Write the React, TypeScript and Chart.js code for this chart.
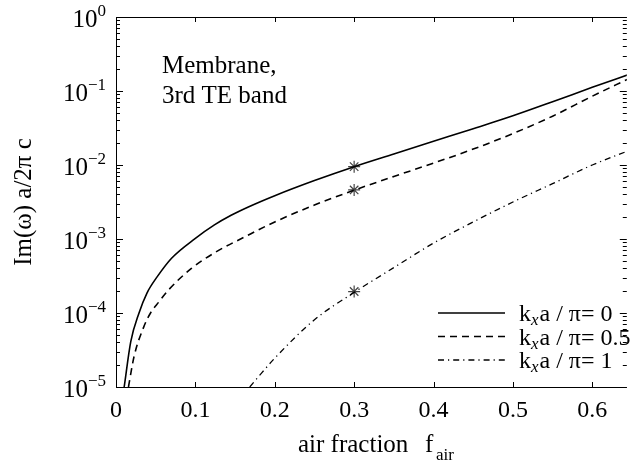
import React, { useEffect, useRef } from "react";
import { Chart, registerables } from "chart.js";

Chart.register(...registerables);

// kx a/pi = 0 (solid)
const fK0 = [0.0103, 0.0186, 0.029, 0.039, 0.052, 0.07, 0.1, 0.124, 0.145, 0.166, 0.2, 0.25, 0.3, 0.35, 0.4, 0.45, 0.5, 0.55, 0.6, 0.645];
const vK0 = [1.0e-5, 4.1e-5, 1.0e-4, 1.86e-4, 3.1e-4, 5.5e-4, 1.02e-3, 1.55e-3, 2.09e-3, 2.69e-3, 3.85e-3, 6.17e-3, 9.5e-3, 1.41e-2, 2.09e-2, 3.09e-2, 4.62e-2, 7.16e-2, 0.112, 0.166];
// kx a/pi = 0.5 (dashed)
const fK05 = [0.0157, 0.0228, 0.035, 0.0435, 0.054, 0.066, 0.095, 0.124, 0.166, 0.2, 0.25, 0.3, 0.35, 0.4, 0.45, 0.5, 0.55, 0.6, 0.645];
const vK05 = [1.0e-5, 2.6e-5, 6.5e-5, 1.0e-4, 1.41e-4, 2.04e-4, 4.0e-4, 6.5e-4, 1.12e-3, 1.7e-3, 2.88e-3, 4.57e-3, 7.0e-3, 1.06e-2, 1.64e-2, 2.66e-2, 4.57e-2, 8.5e-2, 0.145];
// kx a/pi = 1 (dash-dot)
const fK1 = [0.1685, 0.18, 0.2, 0.25, 0.3, 0.35, 0.4, 0.45, 0.5, 0.55, 0.6, 0.645];
const vK1 = [1.0e-5, 1.4e-5, 2.45e-5, 8.1e-5, 1.9e-4, 4.1e-4, 8.8e-4, 1.7e-3, 3.16e-3, 5.6e-3, 1.0e-2, 1.55e-2];
// marked points (asterisks)
const fStar = [0.3, 0.3, 0.3];
const vStar = [9.5e-3, 4.6e-3, 1.95e-4];

const xTicks = [0, 0.1, 0.2, 0.3, 0.4, 0.5, 0.6];
const yExps = [0, -1, -2, -3, -4, -5];
const legendLabels = ["0", "0.5", "1"];

const SERIF = "'Liberation Serif', 'Times New Roman', serif";
const DASHES: number[][] = [[], [7, 5], [6, 4, 1.2, 4]];
const WIDTHS = [1.6, 1.6, 1.3];

const pts = (xs: number[], ys: number[]) => xs.map((x, i) => ({ x, y: ys[i] }));

const decor = {
  id: "decor",
  afterDraw(chart: any) {
    const { ctx, chartArea: a } = chart;
    const xs = chart.scales.x;
    const ys = chart.scales.y;
    ctx.save();
    ctx.strokeStyle = "#000";
    ctx.fillStyle = "#000";
    ctx.lineWidth = 1;
    // frame
    ctx.beginPath();
    ctx.moveTo(a.right, a.top + 0.5);
    ctx.lineTo(a.left + 0.5, a.top + 0.5);
    ctx.lineTo(a.left + 0.5, a.bottom + 0.5);
    ctx.lineTo(a.right, a.bottom + 0.5);
    ctx.stroke();
    // x ticks
    ctx.beginPath();
    for (const v of xTicks) {
      const px = Math.round(xs.getPixelForValue(v)) + 0.5;
      ctx.moveTo(px, a.bottom);
      ctx.lineTo(px, a.bottom - 5);
      ctx.moveTo(px, a.top);
      ctx.lineTo(px, a.top + 5);
    }
    // y ticks
    for (const e of yExps) {
      const py = Math.round(ys.getPixelForValue(Math.pow(10, e))) + 0.5;
      ctx.moveTo(a.left, py);
      ctx.lineTo(a.left + 7, py);
      ctx.moveTo(a.right, py);
      ctx.lineTo(a.right - 7, py);
      if (e < 0) {
        for (let m = 2; m <= 9; m++) {
          const q = Math.round(ys.getPixelForValue(m * Math.pow(10, e))) + 0.5;
          ctx.moveTo(a.left, q);
          ctx.lineTo(a.left + 4, q);
          ctx.moveTo(a.right, q);
          ctx.lineTo(a.right - 4, q);
        }
      }
    }
    ctx.stroke();
    // y tick labels
    for (const e of yExps) {
      const py = ys.getPixelForValue(Math.pow(10, e));
      const sup = e === 0 ? "0" : "\u2212" + String(-e);
      ctx.font = `25px ${SERIF}`;
      const wBase = ctx.measureText("10").width;
      ctx.font = `17px ${SERIF}`;
      const wSup = ctx.measureText(sup).width;
      const right = 106;
      ctx.textAlign = "left";
      ctx.textBaseline = "alphabetic";
      ctx.font = `25px ${SERIF}`;
      ctx.fillText("10", right - wSup - wBase, py + 10);
      ctx.font = `17px ${SERIF}`;
      ctx.fillText(sup, right - wSup, py - 1);
    }
    // y title
    ctx.save();
    ctx.translate(31, (a.top + a.bottom) / 2);
    ctx.rotate(-Math.PI / 2);
    ctx.font = `25px ${SERIF}`;
    ctx.textAlign = "center";
    ctx.textBaseline = "alphabetic";
    ctx.fillText("Im(\u03c9) a/2\u03c0 c", 0, 0);
    ctx.restore();
    // x title
    ctx.textAlign = "left";
    ctx.font = `25px ${SERIF}`;
    ctx.fillText("air fraction", 298, 452);
    ctx.fillText("f", 425, 452);
    ctx.font = `17px ${SERIF}`;
    ctx.fillText("air", 436, 460);
    // annotation
    ctx.font = `25px ${SERIF}`;
    ctx.fillText("Membrane,", 162, 73);
    ctx.fillText("3rd TE band", 162, 103);
    // legend
    const rows = [313, 336.5, 360];
    rows.forEach((ry, i) => {
      ctx.save();
      ctx.setLineDash(DASHES[i]);
      ctx.lineWidth = WIDTHS[i];
      ctx.beginPath();
      ctx.moveTo(438, ry);
      ctx.lineTo(505, ry);
      ctx.stroke();
      ctx.restore();
      let x = 519;
      const base = ry + 8;
      ctx.font = `24px ${SERIF}`;
      ctx.fillText("k", x, base);
      x += ctx.measureText("k").width;
      ctx.font = `italic 17px ${SERIF}`;
      ctx.fillText("x", x, base + 4);
      x += ctx.measureText("x").width + 1;
      ctx.font = `24px ${SERIF}`;
      ctx.fillText("a / \u03c0= " + legendLabels[i], x, base);
    });
    ctx.restore();
  },
};

export default function App() {
  const ref = useRef<HTMLCanvasElement>(null);
  useEffect(() => {
    const chart = new Chart(ref.current!, {
      type: "line",
      data: {
        datasets: [
          { data: pts(fK0, vK0), borderDash: DASHES[0], borderWidth: WIDTHS[0] },
          { data: pts(fK05, vK05), borderDash: DASHES[1], borderWidth: WIDTHS[1] },
          { data: pts(fK1, vK1), borderDash: DASHES[2], borderWidth: WIDTHS[2] },
        ].map((d) => ({
          ...d,
          borderColor: "#000",
          pointRadius: 0,
          cubicInterpolationMode: "monotone" as const,
          fill: false,
        })).concat([
          {
            data: pts(fStar, vStar),
            showLine: false,
            pointStyle: "star",
            pointRadius: 6,
            pointBorderColor: "#444",
            pointBorderWidth: 1.2,
            borderColor: "#444",
          } as any,
        ]),
      },
      options: {
        animation: false,
        responsive: true,
        maintainAspectRatio: false,
        layout: { padding: { top: 17, right: 0, left: 0, bottom: 0 } },
        plugins: { legend: { display: false }, tooltip: { enabled: false } },
        scales: {
          x: {
            type: "linear",
            min: 0,
            max: 0.6435,
            grid: { display: false, drawTicks: false },
            border: { display: false },
            ticks: {
              stepSize: 0.1,
              includeBounds: false,
              autoSkip: false,
              maxRotation: 0,
              padding: 9,
              color: "#000",
              font: { family: SERIF, size: 24 },
              callback: (v: any) => String(Number(Number(v).toFixed(1))),
            },
            afterFit: (s: any) => {
              s.height = 466 - 387;
            },
          },
          y: {
            type: "logarithmic",
            min: 1e-5,
            max: 1,
            grid: { display: false, drawTicks: false },
            border: { display: false },
            ticks: { display: false },
            afterFit: (s: any) => {
              s.width = 116;
            },
          },
        },
      },
      plugins: [decor],
    });
    return () => chart.destroy();
  }, []);
  return (
    <div style={{ position: "fixed", left: 0, top: 0, width: 634, height: 466, background: "#fff" }}>
      <canvas ref={ref} />
    </div>
  );
}
